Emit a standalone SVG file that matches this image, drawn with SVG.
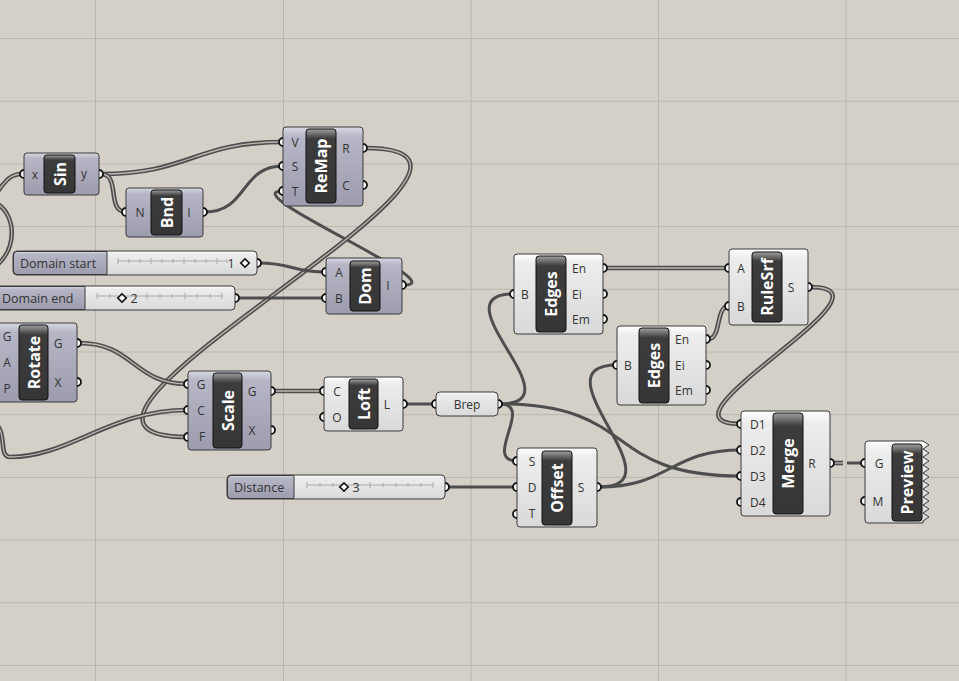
<svg xmlns="http://www.w3.org/2000/svg" width="959" height="681" viewBox="0 0 959 681">
<defs>
<linearGradient id="gGray" x1="0" y1="0" x2="0" y2="1">
<stop offset="0" stop-color="#d8d8e2"/><stop offset="0.12" stop-color="#b6b6c6"/><stop offset="1" stop-color="#9c9cae"/>
</linearGradient>
<linearGradient id="gWhite" x1="0" y1="0" x2="0" y2="1">
<stop offset="0" stop-color="#ffffff"/><stop offset="0.12" stop-color="#ededed"/><stop offset="1" stop-color="#d9d9d9"/>
</linearGradient>
<linearGradient id="gLbl" x1="0" y1="0" x2="0" y2="1">
<stop offset="0" stop-color="#a0a0a0"/><stop offset="0.07" stop-color="#6a6a6a"/><stop offset="0.13" stop-color="#3c3c3c"/><stop offset="1" stop-color="#363636"/>
</linearGradient>
<style>
.grid{stroke:#bab6ae;stroke-width:1}
.w1{fill:none;stroke:#4e4e4e;stroke-width:3}
.da{fill:none;stroke:#4e4e4e;stroke-width:4.6}
.db{fill:none;stroke:#bcb8b0;stroke-width:1.3}
.port{fill:#ffffff;stroke:#111;stroke-width:1.8}
.gbody{fill:url(#gGray);stroke:#3a3a3a;stroke-width:1}
.wbody{fill:url(#gWhite);stroke:#3a3a3a;stroke-width:1}
.lbl{fill:url(#gLbl);stroke:#111;stroke-width:1}
.name{font-family:"Open Sans","Noto Sans",sans-serif;font-weight:bold;font-size:16px;fill:#ffffff;text-anchor:middle;dominant-baseline:central}
.pl{font-family:"Open Sans","Noto Sans",sans-serif;font-size:12px;fill:#333;text-anchor:middle;dominant-baseline:central}
.pls{font-family:"Open Sans","Noto Sans",sans-serif;font-size:12px;fill:#333;text-anchor:start;dominant-baseline:central}
.sl{font-family:"Open Sans","Noto Sans",sans-serif;font-size:12.5px;fill:#333;dominant-baseline:central}
.trk{stroke:#a8a8a8;stroke-width:1;fill:none}
.dia{fill:#ffffff;stroke:#111;stroke-width:1.6}
</style>
</defs>
<rect x="0" y="0" width="959" height="681" fill="#d4d0c8"/>
<g id="grid">
<line class="grid" x1="95.5" y1="0" x2="95.5" y2="681"/>
<line class="grid" x1="283.5" y1="0" x2="283.5" y2="681"/>
<line class="grid" x1="471" y1="0" x2="471" y2="681"/>
<line class="grid" x1="658.5" y1="0" x2="658.5" y2="681"/>
<line class="grid" x1="846" y1="0" x2="846" y2="681"/>
<line class="grid" x1="0" y1="38.5" x2="959" y2="38.5"/>
<line class="grid" x1="0" y1="101.2" x2="959" y2="101.2"/>
<line class="grid" x1="0" y1="163.9" x2="959" y2="163.9"/>
<line class="grid" x1="0" y1="226.6" x2="959" y2="226.6"/>
<line class="grid" x1="0" y1="289.3" x2="959" y2="289.3"/>
<line class="grid" x1="0" y1="352" x2="959" y2="352"/>
<line class="grid" x1="0" y1="414.7" x2="959" y2="414.7"/>
<line class="grid" x1="0" y1="477.4" x2="959" y2="477.4"/>
<line class="grid" x1="0" y1="540.1" x2="959" y2="540.1"/>
<line class="grid" x1="0" y1="602.8" x2="959" y2="602.8"/>
<line class="grid" x1="0" y1="665.5" x2="959" y2="665.5"/>
</g>
<g id="connectors">
<path class="da" d="M101,174 C190,174 194,142 283,142"/><path class="db" d="M101,174 C190,174 194,142 283,142"/>
<path class="da" d="M101,174 C121,174 106,212 126,212"/><path class="db" d="M101,174 C121,174 106,212 126,212"/>
<path class="w1" d="M205,212 C248,212 240,166 283,166"/>
<path class="w1" d="M404,285 C456,285 231,191 283,191"/>
<path class="da" d="M365,148 C575,148 -22,437 188,437"/><path class="db" d="M365,148 C575,148 -22,437 188,437"/>
<path class="da" d="M79,343 C134,343 133,384 188,384"/><path class="db" d="M79,343 C134,343 133,384 188,384"/>
<path class="da" d="M273,391 L324,391"/><path class="db" d="M273,391 L324,391"/>
<path class="w1" d="M405,404 L434,404"/>
<path class="w1" d="M500,404 C580,404 434,294 514,294"/>
<path class="w1" d="M500,404 C535,404 482,461 517,461"/>
<path class="w1" d="M500,404 C640,404 601,476 741,476"/>
<path class="w1" d="M599,487 C684,487 532,365 617,365"/>
<path class="w1" d="M599,487 C670,487 670,450 741,450"/>
<path class="da" d="M605,268 L729,268"/><path class="db" d="M605,268 L729,268"/>
<path class="da" d="M708,339 C722,339 715,306 729,306"/><path class="db" d="M708,339 C722,339 715,306 729,306"/>
<path class="da" d="M810,287 C910,287 641,424 741,424"/><path class="db" d="M810,287 C910,287 641,424 741,424"/>
<path class="da" d="M832,463 L843,463"/><path class="db" d="M832,463 L843,463"/>
<path class="w1" d="M847,463 L863,463" stroke-width="4"/>
<path class="w1" d="M447,487 L517,487"/>
<path class="w1" d="M259,263 C292,263 292,272 326,272"/>
<path class="w1" d="M237,298 L326,298"/>
<path class="da" d="M22,174 C8,174 4,184 -6,196"/><path class="db" d="M22,174 C8,174 4,184 -6,196"/>
<path class="da" d="M-4,203 C16,214 18,248 -4,266"/><path class="db" d="M-4,203 C16,214 18,248 -4,266"/>
<path class="da" d="M188,410 C110,410 70,457 10,457 C-2,457 8,432 -6,422"/><path class="db" d="M188,410 C110,410 70,457 10,457 C-2,457 8,432 -6,422"/>
</g>
<g id="sin">
<circle class="port" cx="24" cy="174" r="4"/><circle class="port" cx="99" cy="174" r="4"/>
<rect class="gbody" x="24" y="153" width="75" height="42" rx="3"/>
<rect class="lbl" x="44" y="155" width="31" height="38" rx="3"/>
<text class="name" transform="translate(59.5,174) rotate(-90)">Sin</text>
<text class="pl" x="35" y="174">x</text><text class="pl" x="84" y="173">y</text>
</g>
<g id="bnd">
<circle class="port" cx="126" cy="212" r="4"/><circle class="port" cx="203" cy="212" r="4"/>
<rect class="gbody" x="126" y="188" width="77" height="49" rx="3"/>
<rect class="lbl" x="151" y="190" width="31" height="45" rx="3"/>
<text class="name" transform="translate(166.5,212.5) rotate(-90)">Bnd</text>
<text class="pl" x="140" y="212">N</text><text class="pl" x="189" y="212">I</text>
</g>
<g id="remap">
<circle class="port" cx="283" cy="142" r="4"/><circle class="port" cx="283" cy="166" r="4"/><circle class="port" cx="283" cy="191" r="4"/>
<circle class="port" cx="363" cy="148" r="4"/><circle class="port" cx="363" cy="185" r="4"/>
<rect class="gbody" x="283" y="127" width="80" height="79" rx="3"/>
<rect class="lbl" x="306" y="129" width="30" height="74" rx="3"/>
<text class="name" transform="translate(321,166) rotate(-90)">ReMap</text>
<text class="pl" x="295" y="142">V</text><text class="pl" x="295" y="166">S</text><text class="pl" x="295" y="191">T</text>
<text class="pl" x="346" y="148">R</text><text class="pl" x="346" y="185">C</text>
</g>
<g id="domain-start">
<circle class="port" cx="257" cy="263" r="4"/>
<rect class="wbody" x="13" y="251" width="244" height="24" rx="4"/>
<path d="M107,251.5 L17,251.5 Q13.5,251.5 13.5,255 L13.5,271 Q13.5,274.5 17,274.5 L107,274.5 Z" fill="url(#gGray)" stroke="#3a3a3a" stroke-width="1"/>
<text class="sl" x="20" y="263">Domain start</text>
<path class="trk" d="M118,261 L227,261 M118,258 V264 M129,259 V263 M140,259 V263 M151,258 V264 M162,259 V263 M173,259 V263 M184,258 V264 M195,259 V263 M206,259 V263 M217,258 V264 M227,259 V263"/>
<text class="sl" x="231" y="263" text-anchor="middle">1</text>
<rect class="dia" x="242" y="260" width="6" height="6" transform="rotate(45 245 263)"/>
</g>
<g id="domain-end">
<circle class="port" cx="235" cy="298" r="4"/>
<rect class="wbody" x="-5" y="286" width="240" height="24" rx="4"/>
<path d="M85,286.5 L-1,286.5 Q-4.5,286.5 -4.5,290 L-4.5,306 Q-4.5,309.5 -1,309.5 L85,309.5 Z" fill="url(#gGray)" stroke="#3a3a3a" stroke-width="1"/>
<text class="sl" x="2" y="298">Domain end</text>
<path class="trk" d="M97,296 L222,296 M97,293 V299 M110,294 V298 M147,293 V299 M160,294 V298 M172,294 V298 M185,293 V299 M197,294 V298 M210,294 V298 M222,293 V299"/>
<text class="sl" x="134" y="298" text-anchor="middle">2</text>
<rect class="dia" x="119" y="295" width="6" height="6" transform="rotate(45 122 298)"/>
</g>
<g id="dom">
<circle class="port" cx="326" cy="272" r="4"/><circle class="port" cx="326" cy="298" r="4"/><circle class="port" cx="402" cy="285" r="4"/>
<rect class="gbody" x="326" y="258" width="76" height="56" rx="3"/>
<rect class="lbl" x="350" y="261" width="30" height="50" rx="3"/>
<text class="name" transform="translate(365,286) rotate(-90)">Dom</text>
<text class="pl" x="339" y="272">A</text><text class="pl" x="339" y="298">B</text><text class="pl" x="388" y="285">I</text>
</g>
<g id="rotate">
<circle class="port" cx="77" cy="343" r="4"/><circle class="port" cx="77" cy="382" r="4"/>
<rect class="gbody" x="-6" y="323" width="83" height="79" rx="3"/>
<rect class="lbl" x="19" y="325" width="29" height="75" rx="3"/>
<text class="name" transform="translate(33.5,362.5) rotate(-90)">Rotate</text>
<text class="pl" x="7" y="336">G</text><text class="pl" x="7" y="362">A</text><text class="pl" x="7" y="388">P</text>
<text class="pl" x="58" y="343">G</text><text class="pl" x="58" y="382">X</text>
</g>
<g id="scale">
<circle class="port" cx="188" cy="384" r="4"/><circle class="port" cx="188" cy="410" r="4"/><circle class="port" cx="188" cy="437" r="4"/>
<circle class="port" cx="271" cy="391" r="4"/><circle class="port" cx="271" cy="430" r="4"/>
<rect class="gbody" x="188" y="371" width="83" height="79" rx="3"/>
<rect class="lbl" x="213" y="373" width="29" height="75" rx="3"/>
<text class="name" transform="translate(227.5,410.5) rotate(-90)">Scale</text>
<text class="pl" x="201" y="384">G</text><text class="pl" x="201" y="410">C</text><text class="pl" x="202" y="436">F</text>
<text class="pl" x="252" y="391">G</text><text class="pl" x="252" y="430">X</text>
</g>
<g id="loft">
<circle class="port" cx="324" cy="391" r="4"/><circle class="port" cx="324" cy="417" r="4"/><circle class="port" cx="403" cy="404" r="4"/>
<rect class="wbody" x="324" y="377" width="79" height="54" rx="3"/>
<rect class="lbl" x="349" y="379" width="29" height="50" rx="3"/>
<text class="name" transform="translate(363.5,404) rotate(-90)">Loft</text>
<text class="pl" x="337" y="391">C</text><text class="pl" x="337" y="417">O</text><text class="pl" x="387" y="404">L</text>
</g>
<g id="brep">
<circle class="port" cx="436" cy="404" r="4"/><circle class="port" cx="498" cy="404" r="4"/>
<rect class="wbody" x="436" y="392" width="62" height="24" rx="4"/>
<text class="pl" x="467" y="404" font-size="12.5">Brep</text>
</g>
<g id="distance">
<circle class="port" cx="445" cy="487" r="4"/>
<rect class="wbody" x="227" y="475" width="218" height="24" rx="4"/>
<path d="M294,475.5 L231,475.5 Q227.5,475.5 227.5,479 L227.5,495 Q227.5,498.5 231,498.5 L294,498.5 Z" fill="url(#gGray)" stroke="#3a3a3a" stroke-width="1"/>
<text class="sl" x="234" y="487">Distance</text>
<path class="trk" d="M307,485 L433,485 M307,482 V488 M320,483 V487 M333,483 V487 M370,482 V488 M383,483 V487 M396,483 V487 M408,483 V487 M421,483 V487 M433,482 V488"/>
<text class="sl" x="356" y="487" text-anchor="middle">3</text>
<rect class="dia" x="341" y="484" width="6" height="6" transform="rotate(45 344 487)"/>
</g>
<g id="edges1">
<circle class="port" cx="514" cy="294" r="4"/>
<circle class="port" cx="603" cy="268" r="4"/><circle class="port" cx="603" cy="294" r="4"/><circle class="port" cx="603" cy="319" r="4"/>
<rect class="wbody" x="514" y="254" width="89" height="80" rx="3"/>
<rect class="lbl" x="536" y="256" width="30" height="76" rx="3"/>
<text class="name" transform="translate(551,294) rotate(-90)">Edges</text>
<text class="pl" x="525" y="294">B</text>
<text class="pls" x="572" y="268">En</text><text class="pls" x="572" y="294">Ei</text><text class="pls" x="572" y="319">Em</text>
</g>
<g id="edges2">
<circle class="port" cx="617" cy="365" r="4"/>
<circle class="port" cx="706" cy="339" r="4"/><circle class="port" cx="706" cy="365" r="4"/><circle class="port" cx="706" cy="390" r="4"/>
<rect class="wbody" x="617" y="326" width="89" height="79" rx="3"/>
<rect class="lbl" x="639" y="328" width="30" height="75" rx="3"/>
<text class="name" transform="translate(654,365.5) rotate(-90)">Edges</text>
<text class="pl" x="628" y="365">B</text>
<text class="pls" x="675" y="339">En</text><text class="pls" x="675" y="365">Ei</text><text class="pls" x="675" y="390">Em</text>
</g>
<g id="rulesrf">
<circle class="port" cx="729" cy="268" r="4"/><circle class="port" cx="729" cy="306" r="4"/><circle class="port" cx="808" cy="287" r="4"/>
<rect class="wbody" x="729" y="249" width="79" height="76" rx="3"/>
<rect class="lbl" x="752" y="252" width="30" height="70" rx="3"/>
<text class="name" transform="translate(767,287) rotate(-90)">RuleSrf</text>
<text class="pl" x="741" y="268">A</text><text class="pl" x="741" y="306">B</text><text class="pl" x="791" y="287">S</text>
</g>
<g id="offset">
<circle class="port" cx="517" cy="461" r="4"/><circle class="port" cx="517" cy="487" r="4"/><circle class="port" cx="517" cy="514" r="4"/>
<circle class="port" cx="597" cy="487" r="4"/>
<rect class="wbody" x="517" y="448" width="80" height="79" rx="3"/>
<rect class="lbl" x="542" y="451" width="30" height="74" rx="3"/>
<text class="name" transform="translate(557,488) rotate(-90)">Offset</text>
<text class="pl" x="532" y="461">S</text><text class="pl" x="532" y="487">D</text><text class="pl" x="532" y="513">T</text>
<text class="pl" x="581" y="487">S</text>
</g>
<g id="merge">
<circle class="port" cx="741" cy="424" r="4"/><circle class="port" cx="741" cy="450" r="4"/><circle class="port" cx="741" cy="476" r="4"/><circle class="port" cx="741" cy="502" r="4"/>
<circle class="port" cx="830" cy="463" r="4"/>
<rect class="wbody" x="741" y="411" width="89" height="105" rx="3"/>
<rect class="lbl" x="773" y="413" width="30" height="101" rx="3"/>
<text class="name" transform="translate(788,463.5) rotate(-90)">Merge</text>
<text class="pls" x="750" y="424">D1</text><text class="pls" x="750" y="450">D2</text><text class="pls" x="750" y="476">D3</text><text class="pls" x="750" y="502">D4</text>
<text class="pl" x="812" y="463">R</text>
</g>
<g id="preview">
<circle class="port" cx="865" cy="463" r="4"/><circle class="port" cx="865" cy="501" r="4"/>
<path class="wbody" d="M868,441 L923,441 L929,445 L923,449 L929,453 L923,457 L929,461 L923,465 L929,469 L923,473 L929,477 L923,481 L929,485 L923,489 L929,493 L923,497 L929,501 L923,505 L929,509 L923,513 L929,517 L923,521 L923,523 L868,523 Q865,523 865,520 L865,444 Q865,441 868,441 Z"/>
<rect class="lbl" x="892" y="444" width="30" height="77" rx="3"/>
<text class="name" transform="translate(907,482.5) rotate(-90)">Preview</text>
<text class="pl" x="879" y="463">G</text><text class="pl" x="878" y="501">M</text>
</g>
</svg>
